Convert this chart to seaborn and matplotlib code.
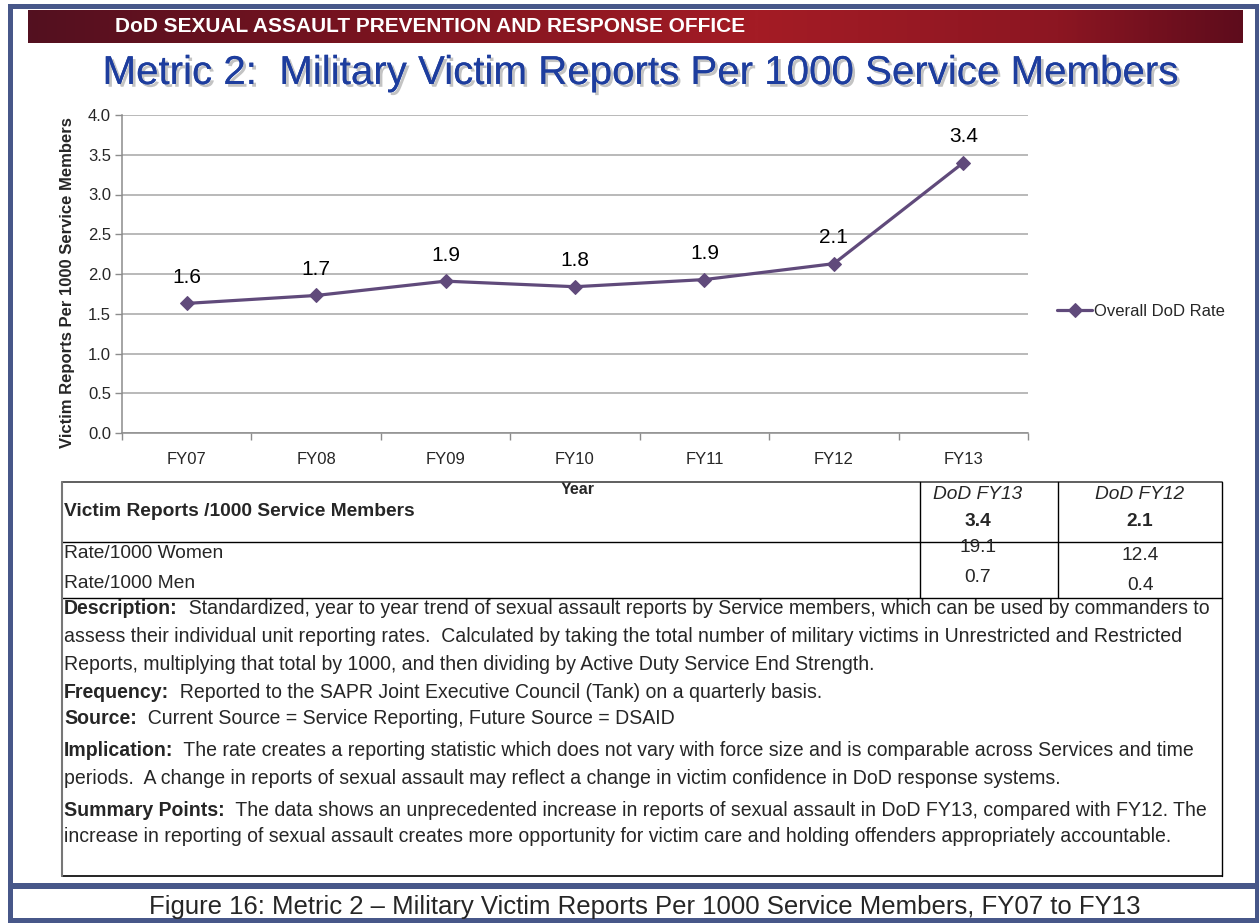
import matplotlib
matplotlib.use("Agg")
import matplotlib.pyplot as plt
import seaborn as sns
import numpy as np
import pandas as pd
from matplotlib import font_manager, patheffects
from matplotlib.colors import LinearSegmentedColormap
from matplotlib.patches import Rectangle
from matplotlib.lines import Line2D

# ---------------- data ----------------
years = ["FY07", "FY08", "FY09", "FY10", "FY11", "FY12", "FY13"]
overall_rate = [1.63, 1.73, 1.91, 1.84, 1.93, 2.13, 3.40]
series_name = "Overall DoD Rate"

table_cols = ["DoD FY13", "DoD FY12"]
table_overall = [3.4, 2.1]
table_women = [19.1, 12.4]
table_men = [0.7, 0.4]

header_text = "DoD SEXUAL ASSAULT PREVENTION AND RESPONSE OFFICE"
title_text = "Metric 2:  Military Victim Reports Per 1000 Service Members"
ylabel_text = "Victim Reports Per 1000 Service Members"
xlabel_text = "Year"
caption_text = "Figure 16: Metric 2 \u2013 Military Victim Reports Per 1000 Service Members, FY07 to FY13"

desc_lines = [
    [("Description:", "bold"), ("  Standardized, year to year trend of sexual assault reports by Service members, which can be used by commanders to", "normal")],
    [("assess their individual unit reporting rates.  Calculated by taking the total number of military victims in Unrestricted and Restricted", "normal")],
    [("Reports, multiplying that total by 1000, and then dividing by Active Duty Service End Strength.", "normal")],
    [("Frequency:", "bold"), ("  Reported to the SAPR Joint Executive Council (Tank) on a quarterly basis.", "normal")],
    [("Source:", "bold"), ("  Current Source = Service Reporting, Future Source = DSAID", "normal")],
    [("Implication:", "bold"), ("  The rate creates a reporting statistic which does not vary with force size and is comparable across Services and time", "normal")],
    [("periods.  A change in reports of sexual assault may reflect a change in victim confidence in DoD response systems.", "normal")],
    [("Summary Points:", "bold"), ("  The data shows an unprecedented increase in reports of sexual assault in DoD FY13, compared with FY12. The", "normal")],
    [("increase in reporting of sexual assault creates more opportunity for victim care and holding offenders appropriately accountable.", "normal")],
]
desc_y = [609, 637, 664, 692, 719, 751, 779, 810, 837]

# ---------------- style ----------------
W, H = 1259, 923
names = {f.name for f in font_manager.fontManager.ttflist}
NARROW = "Liberation Sans Narrow" if "Liberation Sans Narrow" in names else "Liberation Sans"

sns.set_theme(style="white")
plt.rcParams["font.family"] = [NARROW, "DejaVu Sans"]

PURPLE = "#604a7b"
FRAME = "#475789"
GRID = "#a6a6a6"

fig = plt.figure(figsize=(W / 100, H / 100), dpi=100)
fig.patch.set_facecolor("white")


def fx(x):
    return x / W


def fy(y):
    return 1 - y / H


def rect(x0, y0, x1, y1, **kw):
    fig.add_artist(Rectangle((fx(x0), fy(y1)), fx(x1) - fx(x0), fy(y0) - fy(y1),
                             transform=fig.transFigure, **kw))


def line(x0, y0, x1, y1, **kw):
    fig.add_artist(Line2D([fx(x0), fx(x1)], [fy(y0), fy(y1)], transform=fig.transFigure, **kw))


def ftext(x, y, s, **kw):
    return fig.text(fx(x), fy(y), s, **kw)


# frame
rect(8, 4, 1259, 9, color=FRAME, lw=0)
rect(8, 4, 13, 923, color=FRAME, lw=0)
rect(1255, 4, 1259, 923, color=FRAME, lw=0)
rect(8, 883, 1259, 889, color=FRAME, lw=0)
rect(8, 918, 1259, 923, color=FRAME, lw=0)

# header band gradient
band_ax = fig.add_axes([fx(28), fy(43), fx(1243) - fx(28), fy(10) - fy(43)])
cmap = LinearSegmentedColormap.from_list(
    "band", [(0, "#531020"), (0.25, "#75131f"), (0.6, "#a41c25"), (0.85, "#8c1622"), (1.0, "#5e0c1c")])
band_ax.imshow(np.linspace(0, 1, 512)[None, :], aspect="auto", cmap=cmap, extent=[0, 1, 0, 1])
band_ax.set_axis_off()
ftext(430, 26, header_text, color="white", fontsize=15, fontweight="bold", ha="center", va="center")

# title
ftext(640, 73, title_text, color="#1d3d9e", fontsize=29, ha="center", va="center",
      path_effects=[patheffects.withSimplePatchShadow(offset=(2, -2), shadow_rgbFace="#888888", alpha=0.5),
                    patheffects.Normal()])

# ---------------- chart ----------------
ax = fig.add_axes([fx(122), fy(433), fx(1028) - fx(122), fy(115) - fy(433)])
df = pd.DataFrame({"year": years, "rate": overall_rate})
sns.lineplot(data=df, x="year", y="rate", ax=ax, color=PURPLE, marker="D", markersize=7,
             markeredgecolor=PURPLE, linewidth=2.3, label=series_name, sort=False)
ax.set_xlim(-0.5, len(years) - 0.5)
ax.set_ylim(0, 4)
ax.set_yticks(np.arange(0, 4.01, 0.5))
ax.set_yticklabels([f"{v:.1f}" for v in np.arange(0, 4.01, 0.5)])
ax.set_xticks(range(len(years)))
ax.set_xticklabels(years)
ax.set_xticks(np.arange(-0.5, len(years), 1.0), minor=True)
ax.yaxis.grid(True, color=GRID, lw=1.1)
ax.set_axisbelow(True)
for s in ["top", "right"]:
    ax.spines[s].set_visible(False)
for s in ["left", "bottom"]:
    ax.spines[s].set_color("#8c8c8c")
    ax.spines[s].set_linewidth(1.1)
ax.tick_params(axis="y", which="major", direction="out", length=5, color="#8c8c8c", width=1,
               labelsize=12, pad=3, left=True)
ax.tick_params(axis="x", which="major", length=0, labelsize=12, pad=14)
ax.tick_params(axis="x", which="minor", direction="out", length=5, color="#8c8c8c", width=1, bottom=True)
ax.set_xlabel(xlabel_text, fontsize=11.5, fontweight="bold", va="center")
ax.xaxis.set_label_coords((578 - 122) / 906, (433 - 489) / 318)
ax.set_ylabel(ylabel_text, fontsize=12, fontweight="bold", va="center")
ax.yaxis.set_label_coords((68 - 122) / 906, (433 - 283) / 318)

for i, v in enumerate(overall_rate):
    ax.annotate(f"{v:.1f}", (i, v), xytext=(0, 26), textcoords="offset pixels",
                ha="center", va="center", fontsize=15, color="black")

ax.legend(loc="center left", bbox_to_anchor=(fx(1057), fy(311)), bbox_transform=fig.transFigure,
          frameon=False, handlelength=2.1, handletextpad=0.15, borderpad=0, borderaxespad=0, fontsize=12)

# ---------------- table ----------------
TL = "black"
line(62, 482, 1222, 482, color="#444444", lw=1.2)
line(62, 542, 1222, 542, color=TL, lw=1)
line(62, 598, 1222, 598, color=TL, lw=1)
line(62, 876, 1222, 876, color=TL, lw=1.2)
line(62, 482, 62, 876, color="#777777", lw=1.5)
line(1222, 482, 1222, 876, color=TL, lw=1)
line(920, 482, 920, 598, color=TL, lw=1)
line(1058, 482, 1058, 598, color=TL, lw=1)

TFS = 13.8
ftext(64, 511, "Victim Reports /1000 Service Members", fontsize=TFS, fontweight="bold", va="center")
col_x = [978, 1140]
for cx, name, ov in zip(col_x, table_cols, table_overall):
    ftext(cx, 495, name, fontsize=TFS, fontstyle="italic", ha="center", va="center")
    ftext(cx, 522, f"{ov:.1f}", fontsize=TFS, fontweight="bold", ha="center", va="center")
ftext(col_x[0], 548, f"{table_women[0]:.1f}", fontsize=TFS, ha="center", va="center")
ftext(col_x[1], 555, f"{table_women[1]:.1f}", fontsize=TFS, ha="center", va="center")
ftext(col_x[0], 578, f"{table_men[0]:.1f}", fontsize=TFS, ha="center", va="center")
ftext(col_x[1], 585, f"{table_men[1]:.1f}", fontsize=TFS, ha="center", va="center")
ftext(64, 554, "Rate/1000 Women", fontsize=TFS, va="center")
ftext(64, 584, "Rate/1000 Men", fontsize=TFS, va="center")

renderer = fig.canvas.get_renderer()
for parts, yy in zip(desc_lines, desc_y):
    x = 64
    for txt, wt in parts:
        t = ftext(x, yy, txt, fontsize=14.05, fontweight=wt, va="center")
        bb = t.get_window_extent(renderer)
        x += bb.width

# caption
ftext(645, 907, caption_text, fontsize=18.5, ha="center", va="center", family=["Liberation Sans", "DejaVu Sans"])

fig.savefig("out.png", dpi=100)
